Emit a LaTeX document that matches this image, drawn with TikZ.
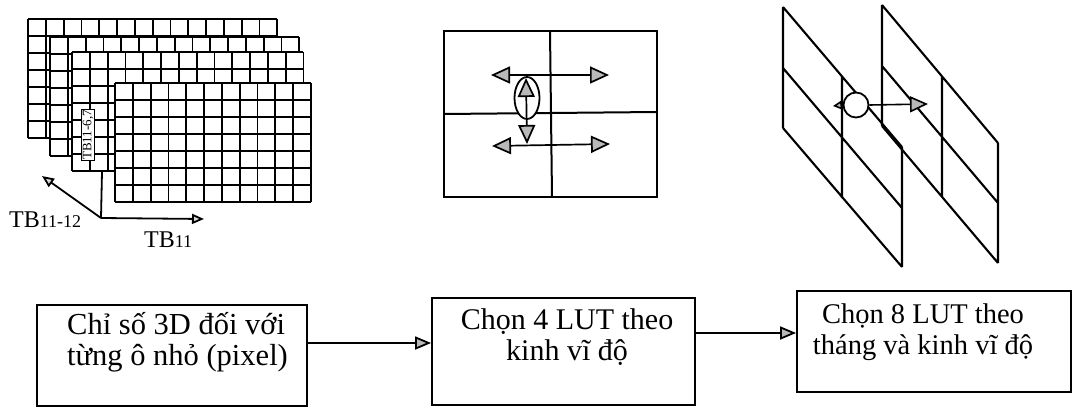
\documentclass[tikz,border=0pt]{standalone}
\usepackage{fontspec}
\setmainfont{Liberation Serif}
\usetikzlibrary{arrows.meta,shapes.geometric}
\begin{document}
\begin{tikzpicture}[x=1pt,y=-1pt,
  gridln/.style={line width=1.8pt},
  frameln/.style={line width=2pt},
  planeln/.style={line width=2.1pt},
  boxst/.style={draw,line width=1.8pt,inner sep=0,minimum width=#1},
  btxt/.style={inner sep=0},
  bigtip/.style={line width=1.7pt,{Triangle[length=19pt,width=17pt,fill=gray!55]}-{Triangle[length=19pt,width=17pt,fill=gray!55]}},
  boxtip/.style={line width=1.8pt,-{Triangle[length=16pt,width=13pt,fill=gray!55]}},
  axtip/.style={line width=1.8pt,-{Triangle[length=12pt,width=10pt,fill=gray!30]}},
]
\useasboundingbox (0,0) rectangle (1073,409);

% ---- stacked grids ----
\foreach \xo/\yo/\nc/\nr in {28/19/14/7, 50/37/14/7, 72/52/13/7, 115/83/11/7} {
  \fill[white] (\xo,\yo) rectangle ++(\nc*17.8,\nr*17);
  \foreach \i in {0,...,\nc} \draw[gridln] (\xo+\i*17.8,\yo) -- ++(0,\nr*17);
  \foreach \j in {0,...,\nr} \draw[gridln] (\xo,\yo+\j*17) -- ++(\nc*17.8,0);
}
\node[draw,line width=1pt,rotate=90,inner sep=1pt,fill=white,font=\fontsize{13}{13}\selectfont] (col) at (88,135) {TB11-6,7};

% axes
\coordinate (O) at (101,218);
\coordinate (axv) at (102,172);
\coordinate (axh) at (204,219);
\coordinate (axd) at (42,176);
\draw[line width=1.8pt] (axv) -- (O);
\draw[axtip] (O) -- (axh);
\draw[axtip] (O) -- (axd);
\node[anchor=base west,inner sep=0,font=\fontsize{24}{24}\selectfont] (lab1) at (9,227) {TB{\fontsize{18}{18}\selectfont 11-12}};
\node[anchor=base west,inner sep=0,font=\fontsize{24}{24}\selectfont] (lab2) at (144,247) {TB{\fontsize{18}{18}\selectfont 11}};

% ---- middle 2x2 frame ----
\draw[frameln] (444,31) rectangle (657,197);
\draw[frameln] (550,31) -- (552,197);
\draw[frameln] (444,114) -- (657,112);
\node[draw,ellipse,line width=1.8pt,fill=white,minimum width=25pt,minimum height=42pt,inner sep=0] (e) at (527,98) {};
\coordinate (hl1) at (491,75);
\coordinate (hr1) at (609,75);
\coordinate (hl2) at (492,146);
\coordinate (hr2) at (610,144);
\coordinate (vu) at (526,78);
\coordinate (vd) at (527,144);
\draw[bigtip] (hl1) -- (hr1);
\draw[bigtip] (hl2) -- (hr2);
\draw[bigtip] (vu) -- (vd);

% ---- right: two slanted planes ----
\draw[planeln] (783,7) -- (783,128) (842,77) -- (842,198) (902,147) -- (902,267)
  (783,7) -- (902,147) (783,68) -- (902,208) (783,128) -- (902,267);
\draw[planeln] (882,5) -- (882,126) (942,76) -- (942,197) (998,143) -- (998,263)
  (882,5) -- (998,143) (882,66) -- (998,203) (882,126) -- (998,263);
\node[draw,circle,line width=1.8pt,fill=white,minimum size=25pt,inner sep=0] (c) at (856,105) {};
\coordinate (cl) at (833,106);
\coordinate (cr) at (928,104);
\draw[line width=1.6pt,-{Triangle[length=18pt,width=16pt,fill=gray!55]}] (c.east) -- (cr);
\draw[line width=1.6pt,-{Triangle[length=9pt,width=9pt,fill=gray!55]}] (c.west) -- (cl);

% ---- bottom flow ----
\node[boxst=270pt,minimum height=101pt] (b1) at (172,355.5) {};
\node[boxst=263pt,minimum height=107pt] (b2) at (563.5,351.5) {};
\node[boxst=274pt,minimum height=101pt] (b3) at (934,341.5) {};
\node[btxt,anchor=west,align=left,font=\fontsize{30.5}{31}\selectfont] (t1) at (67,342) {Chỉ số 3D đối với\\từng ô nhỏ (pixel)};
\node[btxt,align=center,font=\fontsize{30}{30.5}\selectfont] (t2) at (567,337) {Chọn 4 LUT theo\\kinh vĩ độ};
\node[btxt,align=center,font=\fontsize{28.5}{30.5}\selectfont] (t3) at (923,332) {Chọn 8 LUT theo\\tháng và kinh vĩ độ};
\draw[boxtip] ([yshift=12.5pt]b1.east) -- ([yshift=8.5pt]b2.west);
\draw[boxtip] ([yshift=18.5pt]b2.east) -- ([yshift=8.5pt]b3.west);
\end{tikzpicture}
\end{document}
